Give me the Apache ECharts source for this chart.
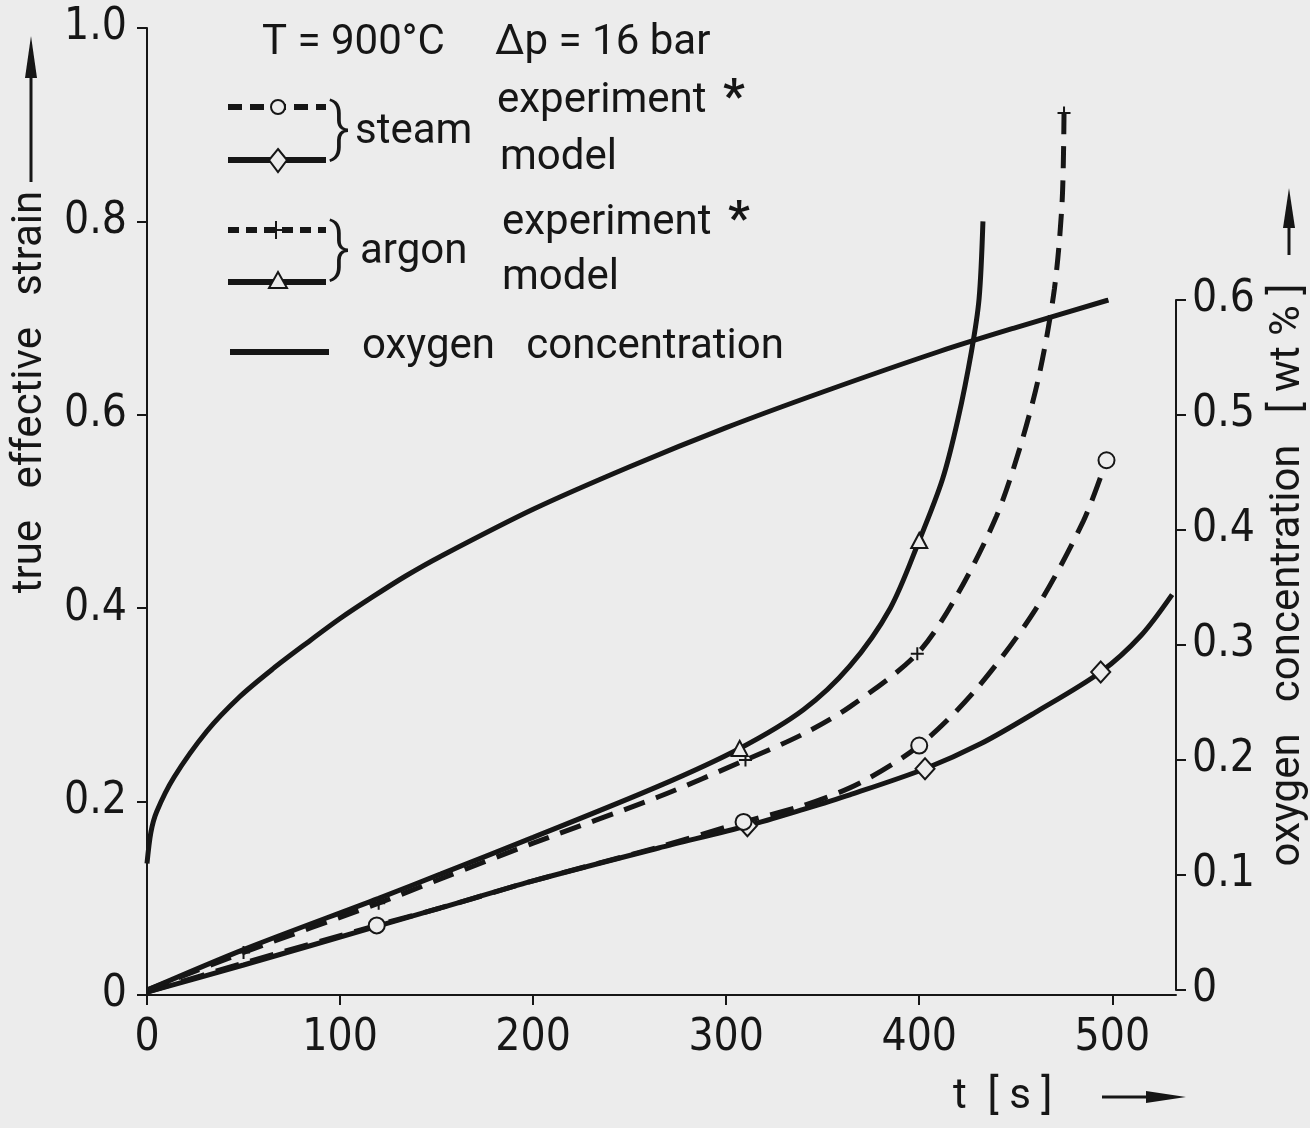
<!DOCTYPE html>
<html>
<head>
<meta charset="utf-8">
<title>true effective strain / oxygen concentration</title>
<script src="https://cdn.jsdelivr.net/npm/echarts@6/dist/echarts.min.js"></script>
<style>
html, body { margin: 0; padding: 0; background: #ececec; }
#chart { width: 1310px; height: 1128px; }
</style>
</head>
<body>
<div id="chart"></div>
<script>
// tick labels
const timeTicks = [0, 100, 200, 300, 400, 500]
const strainTicks = [0, 0.2, 0.4, 0.6, 0.8, 1.0]
const oxygenTicks = [0, 0.1, 0.2, 0.3, 0.4, 0.5, 0.6]

// oxygen concentration [wt %] (right axis)
const oxyT = [0, 2, 5, 14, 31, 48, 65, 83, 100, 117, 134, 152, 200, 250, 300, 350, 410, 450, 498]
const oxyV = [0.11, 0.137, 0.155, 0.185, 0.225, 0.255, 0.279, 0.302, 0.323, 0.342, 0.36, 0.377, 0.418, 0.455, 0.489, 0.52, 0.555, 0.576, 0.6]

// argon, model (solid, triangles)
const argonModelT = [0, 50, 120, 152, 200, 265, 307, 340, 364, 385, 400, 412, 420, 427, 431, 433]
const argonModelV = [0.005, 0.047, 0.1, 0.125, 0.163, 0.216, 0.255, 0.295, 0.34, 0.4, 0.47, 0.533, 0.595, 0.665, 0.72, 0.8]
const argonModelMarks = [307, 400]

// argon, experiment (dashed, crosses)
const argonExpT = [0, 50, 120, 152, 200, 265, 310, 340, 364, 399, 420, 440, 452, 462, 470, 474, 475]
const argonExpV = [0.005, 0.044, 0.095, 0.12, 0.157, 0.205, 0.243, 0.27, 0.298, 0.353, 0.415, 0.495, 0.565, 0.64, 0.73, 0.82, 0.912]
const argonExpMarks = [50, 120, 310, 399, 475]

// steam, experiment (dashed, circles)
const steamExpT = [0, 50, 119, 152, 200, 265, 309, 340, 369, 400, 429, 460, 485, 497]
const steamExpV = [0.003, 0.033, 0.072, 0.09, 0.118, 0.153, 0.179, 0.196, 0.219, 0.258, 0.315, 0.398, 0.49, 0.553]
const steamExpMarks = [119, 309, 400, 497]

// steam, model (solid, diamonds)
const steamModelT = [0, 50, 119, 152, 200, 265, 311, 340, 364, 403, 432, 460, 494, 515, 531]
const steamModelV = [0.003, 0.031, 0.071, 0.09, 0.118, 0.152, 0.175, 0.192, 0.207, 0.234, 0.26, 0.292, 0.334, 0.372, 0.414]
const steamModelMarks = [311, 403, 494]

const ink = '#161616'
const paper = '#ececec'
const textFont = 'Roboto, "DejaVu Sans", sans-serif'
const digitFont = '"DejaVu Sans Condensed", "Liberation Sans Narrow", Roboto, sans-serif'
const plus = 'path://M6,0 L6,12 M0,6 L12,6'

const tickLabel = function (v) {
  return v === 0 ? '0' : v.toFixed(1)
}

// pair the two arrays, put a marker on the listed times
function curve (ts, vs, marks, symbol, size) {
  return ts.map(function (t, i) {
    const item = { value: [t, vs[i]] }
    if (marks.indexOf(t) >= 0) {
      item.symbol = symbol
      item.symbolSize = size
    }
    return item
  })
}

function lineSeries (name, data, dash, xi) {
  return {
    name: name,
    type: 'line',
    xAxisIndex: xi,
    yAxisIndex: xi,
    smooth: 0.3,
    symbol: 'none',
    silent: true,
    lineStyle: { color: ink, width: 5, type: dash, cap: 'butt' },
    itemStyle: { color: paper, borderColor: ink, borderWidth: 2 },
    data: data
  }
}

function txt (text, x, y, size, extra) {
  return Object.assign({
    type: 'text',
    x: x,
    y: y,
    style: {
      text: text,
      fill: ink,
      font: size + 'px ' + textFont,
      verticalAlign: 'middle'
    }
  }, extra || {})
}

function seg (x1, y1, x2, y2, w, dash) {
  return {
    type: 'line',
    shape: { x1: x1, y1: y1, x2: x2, y2: y2 },
    style: { stroke: ink, lineWidth: w, lineDash: dash || null }
  }
}

function head (points) {
  return { type: 'polygon', shape: { points: points }, style: { fill: ink } }
}

const chart = echarts.init(document.getElementById('chart'))

chart.setOption({
  backgroundColor: paper,
  animation: false,
  grid: [
    { left: 147, right: 134, top: 28, bottom: 133 },
    { left: 147, right: 134, top: 300, bottom: 138 }
  ],
  xAxis: [{
    gridIndex: 0,
    type: 'value',
    min: timeTicks[0],
    max: 533,
    interval: 100,
    axisLine: { onZero: false, lineStyle: { color: ink, width: 2 } },
    axisTick: { length: 10, customValues: timeTicks, lineStyle: { color: ink, width: 2 } },
    axisLabel: {
      margin: 22,
      color: ink,
      fontSize: 44,
      fontFamily: digitFont,
      formatter: function (v) { return timeTicks.indexOf(v) >= 0 ? String(v) : '' }
    },
    splitLine: { show: false }
  }, {
    gridIndex: 1,
    type: 'value',
    min: 0,
    max: 533,
    show: false,
    axisLine: { show: false, onZero: false },
    axisTick: { show: false },
    axisLabel: { show: false },
    splitLine: { show: false }
  }],
  yAxis: [{
    gridIndex: 0,
    type: 'value',
    min: strainTicks[0],
    max: strainTicks[strainTicks.length - 1],
    interval: 0.2,
    axisLine: { show: true, onZero: false, lineStyle: { color: ink, width: 2 } },
    axisTick: { show: true, length: 10, lineStyle: { color: ink, width: 2 } },
    axisLabel: { margin: 20, color: ink, fontSize: 44, fontFamily: digitFont, formatter: tickLabel },
    splitLine: { show: false }
  }, {
    gridIndex: 1,
    type: 'value',
    position: 'right',
    min: oxygenTicks[0],
    max: oxygenTicks[oxygenTicks.length - 1],
    interval: 0.1,
    axisLine: { show: true, onZero: false, lineStyle: { color: ink, width: 2 } },
    axisTick: { show: true, length: 10, lineStyle: { color: ink, width: 2 } },
    axisLabel: { margin: 16, color: ink, fontSize: 44, fontFamily: digitFont, formatter: tickLabel },
    splitLine: { show: false }
  }],
  series: [
    lineSeries('oxygen concentration', curve(oxyT, oxyV, [], 'none', 0), 'solid', 1),
    lineSeries('steam model', curve(steamModelT, steamModelV, steamModelMarks, 'diamond', [19, 21]), 'solid', 0),
    lineSeries('steam experiment', curve(steamExpT, steamExpV, steamExpMarks, 'circle', 16), [24, 12], 0),
    lineSeries('argon experiment', curve(argonExpT, argonExpV, argonExpMarks, plus, 13), [22, 12], 0),
    lineSeries('argon model', curve(argonModelT, argonModelV, argonModelMarks, 'triangle', [16, 15]), 'solid', 0)
  ],
  graphic: [
    // axis titles with arrows
    txt('', 30, 392, 42, { rotation: Math.PI / 2, style: { text: 'true   effective   strain', fill: ink, font: '42px ' + textFont, align: 'center', verticalAlign: 'middle' } }),
    seg(31, 182, 31, 70, 3),
    head([[31, 36], [25, 78], [37, 78]]),
    txt('', 1288, 575, 42, { rotation: Math.PI / 2, style: { text: 'oxygen   concentration   [ wt % ]', fill: ink, font: '42px ' + textFont, align: 'center', verticalAlign: 'middle' } }),
    seg(1289, 255, 1289, 220, 3),
    head([[1289, 188], [1283, 228], [1295, 228]]),
    txt('t  [ s ]', 953, 1097, 42),
    seg(1102, 1097, 1150, 1097, 3),
    head([[1186, 1097], [1146, 1091], [1146, 1103]]),

    // header
    txt('T = 900°C', 262, 43, 42),
    txt('Δp = 16 bar', 495, 43, 42),

    // legend: steam
    seg(228, 107, 326, 107, 6, [14, 8]),
    { type: 'circle', shape: { cx: 278, cy: 107, r: 7 }, style: { fill: paper, stroke: ink, lineWidth: 2 } },
    seg(228, 160, 326, 160, 6),
    { type: 'polygon', shape: { points: [[278, 149], [287, 160], [278, 172], [269, 160]] }, style: { fill: paper, stroke: ink, lineWidth: 2 } },
    txt('', 329, 133, 64, { style: { text: '}', fill: ink, font: '300 64px ' + textFont, verticalAlign: 'middle' } }),
    txt('steam', 355, 132, 42),
    txt('experiment', 497, 101, 42),
    txt('', 723, 100, 48, { style: { text: '*', fill: ink, font: 'bold 48px ' + textFont, verticalAlign: 'middle' } }),
    txt('model', 500, 158, 42),

    // legend: argon
    seg(228, 230, 326, 230, 6, [11, 7]),
    seg(276, 221, 276, 239, 2),
    seg(268, 230, 284, 230, 2),
    seg(228, 282, 326, 282, 6),
    { type: 'polygon', shape: { points: [[278, 272], [287, 288], [269, 288]] }, style: { fill: paper, stroke: ink, lineWidth: 2 } },
    txt('', 329, 253, 64, { style: { text: '}', fill: ink, font: '300 64px ' + textFont, verticalAlign: 'middle' } }),
    txt('argon', 360, 252, 42),
    txt('experiment', 502, 223, 42),
    txt('', 728, 222, 48, { style: { text: '*', fill: ink, font: 'bold 48px ' + textFont, verticalAlign: 'middle' } }),
    txt('model', 502, 278, 42),

    // legend: oxygen
    seg(230, 352, 329, 352, 6),
    txt('oxygen   concentration', 362, 347, 42)
  ]
})
</script>
</body>
</html>
